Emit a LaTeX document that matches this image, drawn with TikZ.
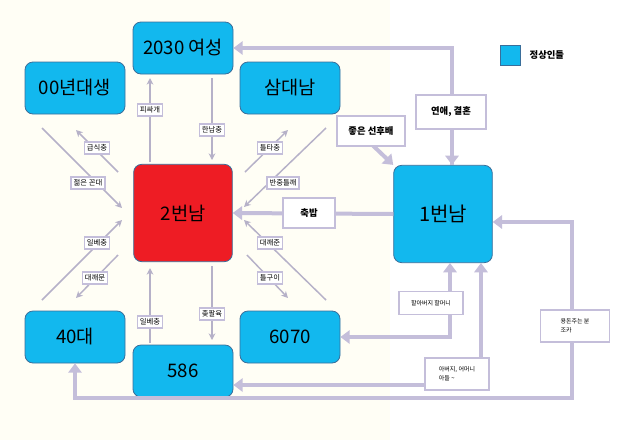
\documentclass[tikz,border=0pt]{standalone}
\usepackage{fontspec}
\setmainfont{Noto Sans CJK KR}
\usetikzlibrary{arrows.meta}
\definecolor{cy}{HTML}{12B8EE}
\definecolor{rd}{HTML}{EE1C24}
\definecolor{ln}{HTML}{C4BEDA}
\definecolor{bd}{HTML}{3A6E9A}
\begin{document}
\begin{tikzpicture}[x=0.75pt,y=-0.75pt,
 big/.style={draw=bd,line width=0.6pt,rounded corners=6pt,fill=cy,minimum width=75pt,minimum height=39pt,inner sep=0pt,font=\fontsize{14}{14}\selectfont},
 lab/.style={draw=ln,fill=white,line width=1pt,inner sep=2pt,font=\fontsize{5.5}{6}\selectfont},
 blab/.style={draw=ln,fill=white,line width=1.5pt,inner sep=0pt,font=\bfseries\fontsize{7}{8}\selectfont},
 ar/.style={draw=ln!80!gray,line width=1.1pt,-{Stealth[length=5pt,width=5pt]}},
 war/.style={draw=ln,line width=3pt,-{Triangle[length=7pt,width=10pt]}}]
\useasboundingbox (0,0) rectangle (643,440);
\fill[white] (0,0) rectangle (643,440);
\fill[yellow!4] (0,0) rectangle (390,440);
% boxes
\node[big] (w) at (183,48) {2030 여성};
\node[big] (g) at (75,88) {00년대생};
\node[big] (s) at (290,88) {삼대남};
\node[big,fill=rd,minimum width=74pt,minimum height=73pt] (two) at (183,213) {2번남};
\node[big] (f) at (75,337) {40대};
\node[big] (e) at (290,337) {6070};
\node[big] (o) at (183,371) {586};
\node[big,minimum width=74pt,minimum height=73pt,font=\fontsize{15}{15}\selectfont] (one) at (443,214) {1번남};
\node[fill=cy,draw=bd,line width=0.4pt,minimum width=15pt,minimum height=15pt,inner sep=0pt] (lg) at (510,55) {};
\node[font=\bfseries\fontsize{7}{8}\selectfont,anchor=west] (lgt) at (525,55) {정상인들};
% vertical arrows
\draw[ar] (150,162) -- (150,78);
\node[lab] (l1) at (150,110) {피싸개};
\draw[ar] (212,78) -- (212,160);
\node[lab] (l2) at (212,130) {한남충};
\draw[ar] (150,343) -- (150,268);
\node[lab] (l3) at (150,322) {일베충};
\draw[ar] (212,266) -- (212,340);
\node[lab] (l4) at (212,314) {좆팔육};
% diagonals
\draw[ar] (118,172) -- (76,130);
\node[lab] (l5) at (97,148) {급식충};
\draw[ar] (42,128) -- (122,208);
\node[lab] (l6) at (88,183) {젊은 꼰대};
\draw[ar] (245,172) -- (288,130);
\node[lab] (l7) at (270,148) {틀타충};
\draw[ar] (326,128) -- (244,207);
\node[lab] (l8) at (283,183) {반중틀깨};
\draw[ar] (42,300) -- (122,220);
\node[lab] (l9) at (97,243) {일베충};
\draw[ar] (118,255) -- (76,298);
\node[lab] (l10) at (95,278) {대깨문};
\draw[ar] (326,300) -- (244,220);
\node[lab] (l11) at (270,243) {대깨준};
\draw[ar] (247,255) -- (288,298);
\node[lab] (l12) at (270,278) {틀구이};
% thick connectors
\draw[war] (452,165) |- (w.east);
\draw[war] (452,100) -- (one.north -| 452,0);
\node[blab,minimum width=52pt,minimum height=25pt] (b1) at (451,112) {연애, 결혼};
\draw[war,{Triangle[length=7pt,width=10pt]}-{Triangle[length=7pt,width=10pt]}] (s.south east) ++(2,2) -- (one.north west);
\node[blab,minimum width=51pt,minimum height=22pt] (b2) at (371,131) {좋은 선후배};
\draw[war] (one.west) -- (two.east);
\node[blab,minimum width=39pt,minimum height=22pt] (b3) at (309,213) {축밥};
\draw[war,{Triangle[length=7pt,width=10pt]}-{Triangle[length=7pt,width=10pt]}] (e.east) -| (450,263);
\node[lab,minimum width=48pt,minimum height=17pt,font=\fontsize{4.5}{5}\selectfont] (b4) at (431,303) {할아버지 할머니};
\draw[war,{Triangle[length=7pt,width=10pt]}-{Triangle[length=7pt,width=10pt]}] (o.east |- 0,385) -| (481,263);
\node[lab,minimum width=48pt,minimum height=24pt,font=\fontsize{4.5}{7}\selectfont,align=left] (b5) at (457,374) {아버지, 어머니\\아들 \textasciitilde};
\draw[war,{Triangle[length=7pt,width=10pt]}-{Triangle[length=7pt,width=10pt]}] (f.south) |- (572,398) |- (one.east |- 0,222);
\node[lab,minimum width=52pt,minimum height=24pt,font=\fontsize{4.5}{7}\selectfont,align=left] (b6) at (575,326) {용돈주는 분\\조카};
\end{tikzpicture}
\end{document}
